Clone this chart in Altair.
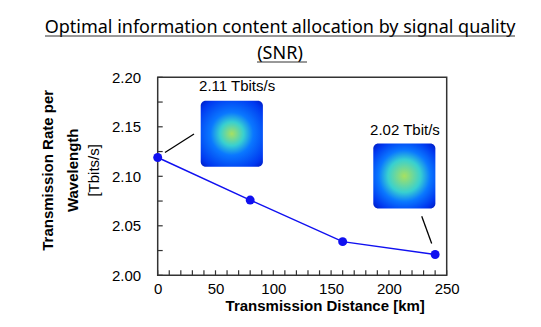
import altair as alt
import pandas as pd

# Data
distance_km = [0, 80, 160, 240]
rate_tbps = [2.119, 2.076, 2.034, 2.021]

x_tick_values = [0, 50, 100, 150, 200, 250]
x_minor_ticks = [0, 10, 20, 30, 40, 50, 60, 70, 80, 90, 100, 110, 120, 130, 140, 150,
                 160, 170, 180, 190, 200, 210, 220, 230, 240, 250]
y_tick_values = [2.00, 2.05, 2.10, 2.15, 2.20]
y_minor_ticks = [2.000, 2.025, 2.050, 2.075, 2.100, 2.125, 2.150, 2.175, 2.200]

ann_text = ["2.11 Tbits/s", "2.02 Tbit/s"]
ann_x = [68.7, 213.9]
ann_y = [2.191, 2.1467]

img_x = [37.2, 186.5]
img_x2 = [91.0, 240.2]
img_y = [2.1763, 2.1332]
img_y2 = [2.1096, 2.0674]

lead_x = [6.3, 228.4]
lead_x2 = [31.4, 237.0]
lead_y = [2.1241, 2.0597]
lead_y2 = [2.1427, 2.0321]

title_lines = ["Optimal information content allocation by signal quality", "(SNR)"]
y_title_lines = ["Transmission Rate per", "Wavelength", "[Tbits/s]"]
x_title = "Transmission Distance [km]"

W, H = 289, 198

xs = alt.Scale(domain=[0, 250], nice=False, zero=False)
ys = alt.Scale(domain=[2.0, 2.2], nice=False, zero=False)

df = pd.DataFrame({"d": distance_km, "r": rate_tbps})

base_x_axis = alt.Axis(values=x_tick_values, ticks=False, domain=False, grid=False,
                       labelFlush=False,
                       labelFontSize=15, labelFont="Liberation Sans", labelColor="black",
                       labelPadding=6, title=x_title, titleFont="Liberation Sans",
                       titleFontSize=15, titleFontWeight="bold", titleColor="black",
                       titleX=167, titleY=35, titleBaseline="alphabetic")
base_y_axis = alt.Axis(values=y_tick_values, ticks=False, domain=False, grid=False,
                       labelFlush=False,
                       format=".2f", labelFontSize=15, labelFont="Liberation Sans",
                       labelColor="black", labelPadding=17, title=None)

line = alt.Chart(df).mark_line(color="#1010f0", strokeWidth=1.5).encode(
    x=alt.X("d:Q", scale=xs, axis=base_x_axis),
    y=alt.Y("r:Q", scale=ys, axis=base_y_axis),
)
pts = alt.Chart(df).mark_circle(color="#1010f0", opacity=1, size=80).encode(
    x=alt.X("d:Q", scale=xs), y=alt.Y("r:Q", scale=ys))

xt = alt.Chart(pd.DataFrame({"xt": x_minor_ticks})).mark_rule(
    color="#333333", strokeWidth=1.2).encode(
    x=alt.X("xt:Q", scale=xs), y=alt.value(H - 5), y2=alt.value(H))
yt = alt.Chart(pd.DataFrame({"yt": y_minor_ticks})).mark_rule(
    color="#333333", strokeWidth=1.2).encode(
    y=alt.Y("yt:Q", scale=ys), x=alt.value(0), x2=alt.value(5))

leads = alt.Chart(pd.DataFrame({"x": lead_x, "x2": lead_x2, "y": lead_y, "y2": lead_y2})).mark_rule(
    color="black", strokeWidth=1.3).encode(
    x=alt.X("x:Q", scale=xs), x2="x2:Q", y=alt.Y("y:Q", scale=ys), y2="y2:Q")

ann = alt.Chart(pd.DataFrame({"x": ann_x, "y": ann_y, "t": ann_text})).mark_text(
    font="Liberation Sans", fontSize=15, color="black", baseline="middle").encode(
    x=alt.X("x:Q", scale=xs), y=alt.Y("y:Q", scale=ys), text="t:N")


def grad(inner):
    return {
        "gradient": "radial",
        "x1": 0.5, "y1": 0.5, "r1": 0,
        "x2": 0.5, "y2": 0.5, "r2": 0.72,
        "stops": [
            {"offset": 0.0, "color": "#a8e060"},
            {"offset": inner, "color": "#38d0d0"},
            {"offset": inner + 0.2, "color": "#0a78ff"},
            {"offset": 0.8, "color": "#0038f0"},
            {"offset": 1.0, "color": "#0010b0"},
        ],
    }


img_df = pd.DataFrame({"x": img_x, "x2": img_x2, "y": img_y, "y2": img_y2})
imgs = []
for i, inner in enumerate([0.25, 0.35]):
    imgs.append(
        alt.Chart(img_df.iloc[[i]]).mark_rect(cornerRadius=5, fill=grad(inner)).encode(
            x=alt.X("x:Q", scale=xs), x2="x2:Q", y=alt.Y("y:Q", scale=ys), y2="y2:Q")
    )

ytitle_df = pd.DataFrame({"t": y_title_lines, "px": [-109.7, -85.0, -63.7]})
ytit_bold = alt.Chart(ytitle_df.iloc[:2]).mark_text(
    font="Liberation Sans", fontSize=15, fontWeight="bold", angle=270, color="black",
    baseline="middle").encode(x=alt.X("px:Q", scale=None), y=alt.value(93), text="t:N")
ytit_reg = alt.Chart(ytitle_df.iloc[2:]).mark_text(
    font="Liberation Sans", fontSize=15, angle=270, color="black",
    baseline="middle").encode(x=alt.X("px:Q", scale=None), y=alt.value(93), text="t:N")

title_df = pd.DataFrame({"t": title_lines, "py": [-44.0, -18.0]})
title_txt = alt.Chart(title_df).mark_text(
    font="Noto Sans", fontSize=18, color="black", align="center", baseline="alphabetic").encode(
    x=alt.value(122.3), y=alt.Y("py:Q", scale=None), text="t:N")

underline = alt.Chart(pd.DataFrame({"a": [-112.7, 99.3], "b": [357.3, 149.3], "c": [-41.3, -15.3]})).mark_rule(
    color="#333333", strokeWidth=1).encode(
    x=alt.X("a:Q", scale=None), x2="b:Q", y=alt.Y("c:Q", scale=None))

chart = alt.layer(*imgs, leads, line, pts, xt, yt, ann, ytit_bold, ytit_reg,
                  title_txt, underline).properties(
    width=W, height=H,
    autosize="none",
    padding={"left": 157.7, "top": 77.3, "right": 94.3, "bottom": 51.7},
).configure_view(stroke="#333333", strokeWidth=1.5)

chart.save("out.html", embed_options={"renderer": "svg", "actions": False})
